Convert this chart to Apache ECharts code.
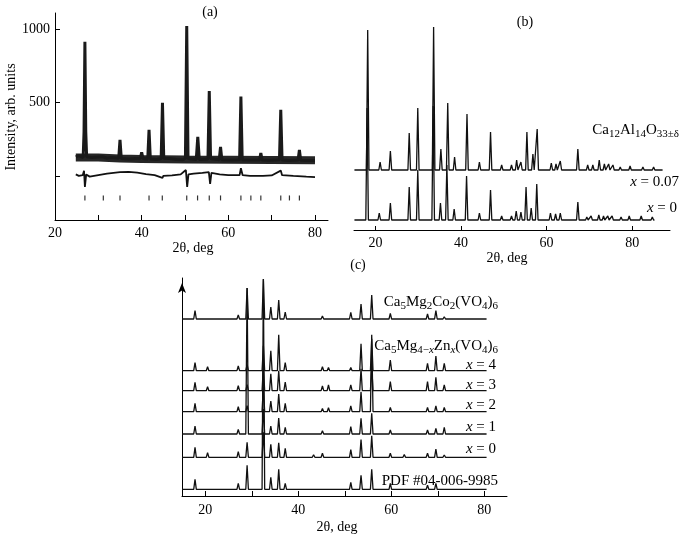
<!DOCTYPE html>
<html><head><meta charset="utf-8">
<script src="https://cdn.jsdelivr.net/npm/echarts@6/dist/echarts.min.js"></script>
<style>html,body{margin:0;padding:0;background:#fff}#c{width:685px;height:540px}</style>
</head><body><div id="c"></div>
<script>
// ---------- Panel (a): Rietveld refinement ----------
const aXTicks = [20, 30, 40, 50, 60, 70, 80];
const aXLabels = [20, 40, 60, 80];
const aYTicks = [0, 500, 1000];
const aYLabels = [500, 1000];
// observed profile [2θ, intensity]
const aObs = [[24.8,130],[25.5,138],[26.5,125],[26.7,300],[26.9,912],[27.1,300],[27.3,130],[28.5,125],[30,128],[31,130],[32,120],[33,125],[34.7,120],[35.0,245],[35.3,118],[37,115],[38.5,118],[39.7,120],[40.0,160],[40.3,118],[41.4,115],[41.7,313],[42.0,115],[43.5,112],[44.5,118],[44.8,497],[45.1,120],[46.5,118],[48,112],[49.5,110],[50.1,120],[50.4,1020],[50.7,118],[52.6,112],[52.95,265],[53.3,112],[55.3,115],[55.6,578],[55.9,118],[57.9,110],[58.2,197],[58.5,110],[60.5,108],[62.6,110],[62.9,540],[63.2,110],[65,108],[67.2,108],[67.5,156],[67.8,108],[69.5,106],[71.8,110],[72.1,450],[72.4,108],[74,105],[76.1,108],[76.4,177],[76.7,106],[78.5,105],[80,105]];
// noisy background band of observed points
const aBand = [[24.8,125],[30,125],[35,118],[40,115],[50,112],[60,110],[70,108],[80,106]];
// difference curve
const aDiff = [[24.8,10],[25.5,0],[26.4,5],[26.7,35],[26.9,-75],[27.2,10],[28,-5],[30,5],[32,15],[35,25],[37,28],[39,22],[41,12],[43,5],[44.8,-14],[45,0],[47,3],[49,10],[50.2,40],[50.5,-75],[50.8,10],[52,15],[54,20],[55.5,25],[55.8,-55],[56.1,20],[58,10],[60,5],[62.6,5],[62.9,52],[63.3,5],[65,0],[68,0],[70,3],[72.1,36],[72.4,5],[75,0],[78,-5],[80,-8]];
// Bragg reflection positions
const aBragg = [26.9,31.15,35.0,41.7,44.76,50.4,52.9,55.6,58.2,62.9,65.2,67.5,72.1,74.1,76.4];

// ---------- Panel (b): Ca12Al14O33±δ ----------
const bXTicks = [20, 40, 60, 80];
const bPosX007 = [18.2,21.1,23.5,27.9,29.9,33.6,35.3,36.9,38.5,41.4,44.3,46.9,49.5,51.8,53.0,54.0,55.4,56.8,57.8,61.1,62.2,63.2,67.3,69.6,70.8,72.3,73.5,74.5,75.5,77.2,79.5,82.5,85.0];
const bIntX007 = [140,8,19,37,62,143,21,67,13,56,8,38,5,5,10,8,38,16,41,7,6,9,21,5,5,10,6,6,5,3,4,3,3];
const bPosX0 = [18.06,20.9,23.5,27.9,29.9,33.5,35.2,36.7,38.4,41.3,44.3,46.9,49.5,51.8,52.9,54.0,55.2,56.4,57.7,60.9,62.1,63.2,67.3,69.4,70.4,72.2,73.3,74.3,75.3,77.4,79.3,82.1,84.7];
const bIntX0 = [112,7,17,33,50,114,17,55,11,44,7,30,4,4,9,8,33,12,36,7,6,7,18,3,4,5,4,4,4,3,4,4,3];
const bOffsets = [50, 0];
const bRanges = [[15.1, 87.1], [15.1, 85.2]];

// ---------- Panel (c): Ca5Mg4-xZnx(VO4)6 ----------
const cXTicks = [20, 30, 40, 50, 60, 70, 80];
const cXLabels = [20, 40, 60, 80];
const cPos = [17.8,20.5,27.1,29.0,32.5,34.1,35.8,37.2,40.1,41.5,43.3,45.2,46.5,51.3,53.5,55.8,59.8,62.8,67.8,69.6,71.4,78.9];
const cPDF = [10,1,6,24,210,12,20,6,1.5,1,0,2,0,7,14,20,6,0,4,6,2,0];
const cX0  = [10,4.7,5.7,15,25,13,14.6,9,1.5,2,2.5,4,0,7.7,17.7,21.6,4,2.7,4,8.3,2.3,2];
const cX1  = [8,0,4.7,146,25,8,16,6.7,1,0,0,3.3,0,7.3,15.7,20.7,4,1,4,5.7,6.7,0];
const cX2  = [8.4,0,5,6,25,10.7,17.7,8.4,1,0,0,3.3,4,5.7,20,77,4.3,1,4.3,5.7,4.3,0];
const cX3  = [8.4,4,5,6,25,17,20,8.7,1.5,0,0,4.7,5.7,5.7,22,25,9,1,9,13.3,5.7,0];
const cX4  = [8,4,4.7,6,25,20,36,8,1.5,0,0,4,3.3,3.3,27,32,10.7,1,7.3,14.7,7.3,0];
const cCo  = [8.5,0,4,31,40,12,19,7,1,0,0,3,0,6.7,15,24,5.7,1,5,8.3,2.3,0];
const cOffsets = [6.7, 38.7, 62, 84.3, 105.3, 125.3, 177];
const cRange = [15, 80.5];

const FONT = 'Liberation Serif';
const BLACK = '#000';

function peakLine(pos, ints, base, start, end, w) {
  const pts = [[start, base]];
  pos.forEach((p, i) => {
    const h = ints[i];
    if (!h) return;
    pts.push([p - w, base], [p, base + h], [p + w, base]);
  });
  pts.push([end, base]);
  return pts;
}

function lineSeries(data, xi, width, color, z) {
  return { type: 'line', xAxisIndex: xi, yAxisIndex: xi, data: data, symbol: 'none',
    lineStyle: { width: width, color: color || '#111' }, z: z || 2, silent: true, animation: false };
}

const tickLabel = { color: BLACK, fontFamily: FONT, fontSize: 14, formatter: v => String(v) };

const series = [
  lineSeries(aBand, 0, 8, '#262626', 1),
  lineSeries(aObs, 0, 3, '#1a1a1a', 2),
  lineSeries(aDiff, 0, 1.8, '#111', 2),
  { type: 'scatter', xAxisIndex: 0, yAxisIndex: 0, data: aBragg.map(p => [p, -150]),
    symbol: 'rect', symbolSize: [1.2, 5], itemStyle: { color: BLACK }, silent: true },
  lineSeries(peakLine(bPosX007, bIntX007, bOffsets[0], bRanges[0][0], bRanges[0][1], 0.3), 1, 1.3),
  lineSeries(peakLine(bPosX0, bIntX0, bOffsets[1], bRanges[1][0], bRanges[1][1], 0.3), 1, 1.3)
];
[cPDF, cX0, cX1, cX2, cX3, cX4, cCo].forEach((ints, k) => {
  series.push(lineSeries(peakLine(cPos, ints, cOffsets[k], cRange[0], cRange[1], 0.28), 2, 1.3));
});

const sub = { fontSize: 11, lineHeight: 10, verticalAlign: 'bottom', fontFamily: FONT, fill: BLACK };
const subI = Object.assign({}, sub, { fontStyle: 'italic' });
const ital = { fontSize: 15, lineHeight: 19, fontFamily: FONT, fontStyle: 'italic', fill: BLACK };
const rich = { s: sub, si: subI, i: ital };

function txt(text, x, y, align, extra, size) {
  return Object.assign({ type: 'text', x: x, y: y, silent: true,
    style: { text: text, fontSize: size || 15, lineHeight: 19, fontFamily: FONT, fill: BLACK,
      align: align || 'center', verticalAlign: 'middle', rich: rich } }, extra || {});
}

const axLine = { onZero: false, lineStyle: { color: BLACK, width: 1 } };

const option = {
  backgroundColor: '#fff',
  animation: false,
  grid: [
    { left: 55, top: 13, width: 273, height: 207 },
    { left: 354, top: 20, width: 316, height: 210 },
    { left: 182, top: 278, width: 325, height: 218 }
  ],
  xAxis: [
    { type: 'value', gridIndex: 0, min: 20, max: 83, axisLine: axLine,
      axisTick: { inside: true, length: 5, customValues: aXTicks, lineStyle: { color: BLACK } },
      axisLabel: Object.assign({ customValues: aXLabels, margin: 6 }, tickLabel),
      splitLine: { show: false } },
    { type: 'value', gridIndex: 1, min: 15, max: 15 + 316 / 4.28, axisLine: axLine,
      axisTick: { inside: true, length: 4, customValues: bXTicks, lineStyle: { color: BLACK } },
      axisLabel: Object.assign({ customValues: bXTicks, margin: 6 }, tickLabel),
      splitLine: { show: false } },
    { type: 'value', gridIndex: 2, min: 15, max: 15 + 325 / 4.65, axisLine: axLine,
      axisTick: { inside: true, length: 5, customValues: cXTicks, lineStyle: { color: BLACK } },
      axisLabel: Object.assign({ customValues: cXLabels, margin: 7 }, tickLabel),
      splitLine: { show: false } }
  ],
  yAxis: [
    { type: 'value', gridIndex: 0, min: -300, max: 1108,
      axisLine: { show: true, onZero: false, lineStyle: { color: BLACK, width: 1 } },
      axisTick: { show: true, inside: true, length: 5, customValues: aYTicks, lineStyle: { color: BLACK } },
      axisLabel: Object.assign({ customValues: aYLabels, margin: 5 }, tickLabel),
      splitLine: { show: false } },
    { type: 'value', gridIndex: 1, min: -10, max: 200, show: false, splitLine: { show: false } },
    { type: 'value', gridIndex: 2, min: 0, max: 218,
      axisLine: { show: true, onZero: false, symbol: ['none', 'arrow'], symbolSize: [6, 10], symbolOffset: [0, -5],
        lineStyle: { color: BLACK, width: 1 } },
      axisTick: { show: false }, axisLabel: { show: false }, splitLine: { show: false } }
  ],
  series: series,
  graphic: [
    txt('(a)', 210, 12, 'center', null, 14),
    txt('2θ, deg', 193, 248, 'center', null, 14),
    txt('Intensity, arb. units', 11, 117, 'center', { rotation: Math.PI / 2 }, 14),
    txt('(b)', 525, 22, 'center', null, 14),
    txt('Ca{s|12}Al{s|14}O{s|33±δ}', 679, 130, 'right'),
    txt('{i|x} = 0.07', 679, 182, 'right'),
    txt('{i|x} = 0', 677, 208, 'right'),
    txt('2θ, deg', 507, 258, 'center', null, 14),
    txt('(c)', 358, 265, 'center', null, 14),
    txt('Ca{s|5}Mg{s|2}Co{s|2}(VO{s|4}){s|6}', 498, 302, 'right'),
    txt('Ca{s|5}Mg{s|4−}{si|x}Zn{si|x}(VO{s|4}){s|6}', 498, 346, 'right'),
    txt('{i|x} = 4', 496, 365, 'right'),
    txt('{i|x} = 3', 496, 385, 'right'),
    txt('{i|x} = 2', 496, 405, 'right'),
    txt('{i|x} = 1', 496, 427, 'right'),
    txt('{i|x} = 0', 496, 449, 'right'),
    txt('PDF #04-006-9985', 498, 481, 'right'),
    txt('2θ, deg', 337, 527, 'center', null, 14)
  ]
};

const chart = echarts.init(document.getElementById('c'), null, { renderer: 'canvas' });
chart.setOption(option);
</script>
</body></html>
